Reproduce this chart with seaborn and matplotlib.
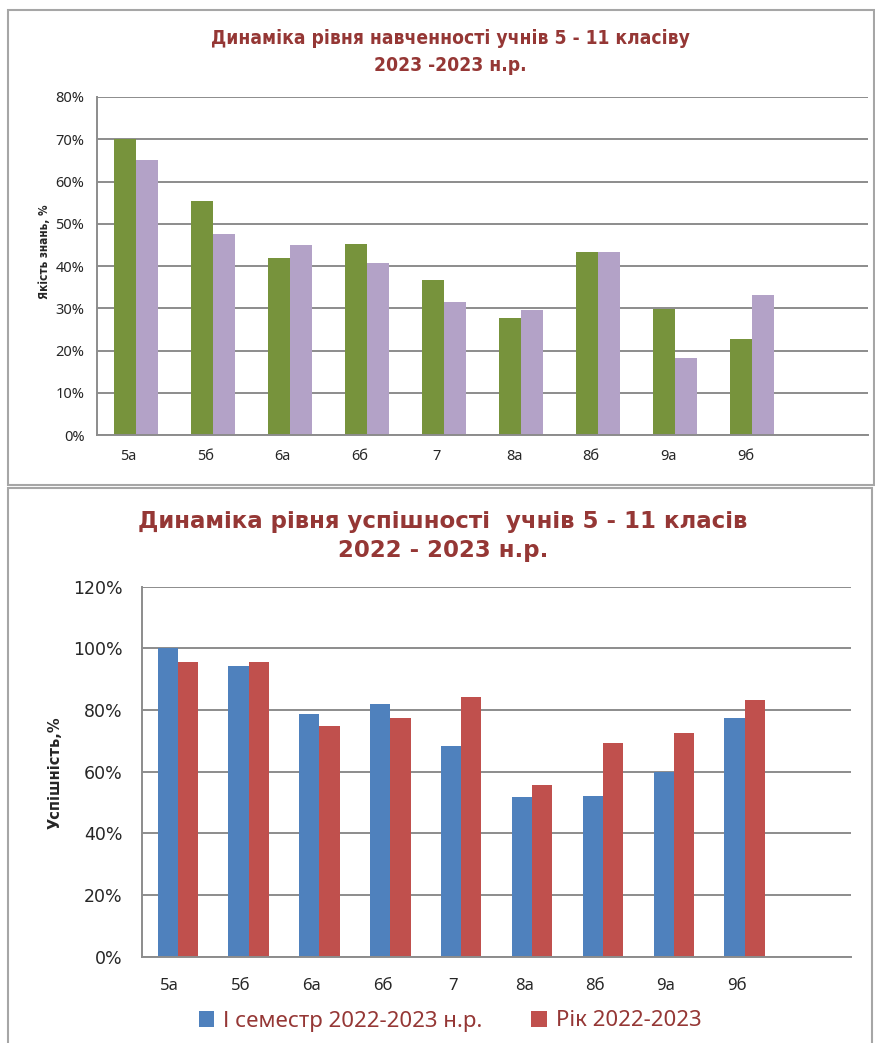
import matplotlib
matplotlib.use("Agg")
import matplotlib.pyplot as plt
import matplotlib.transforms as mtransforms
from matplotlib.patches import Rectangle
from matplotlib.ticker import PercentFormatter
import numpy as np
import pandas as pd
import seaborn as sns

# class names and values (percent)
classes = ["5а", "5б", "6а", "6б", "7", "8а", "8б", "9а", "9б"]
series = ["І семестр 2022-2023 н.р.", "Рік 2022-2023"]

quality_sem = [70.0, 55.4, 42.0, 45.3, 36.8, 27.8, 43.3, 29.9, 22.7]
quality_year = [65.0, 47.6, 44.9, 40.7, 31.4, 29.5, 43.3, 18.2, 33.2]

success_sem = [100.0, 94.3, 78.7, 81.9, 68.3, 51.9, 52.2, 60.0, 77.3]
success_year = [95.7, 95.7, 74.8, 77.3, 84.1, 55.6, 69.4, 72.5, 83.2]

top_title = "Динаміка рівня навченності учнів 5 - 11 класіву\n2023 -2023 н.р."
bottom_title = "Динаміка рівня успішності  учнів 5 - 11 класів\n2022 - 2023 н.р."

DARK_RED = "#953735"
GRID = "#8c8c8c"
NARROW = ["Noto Sans", "DejaVu Sans"]


def long_df(sem, year):
    df = pd.DataFrame({"class": classes, series[0]: sem, series[1]: year})
    return df.melt(id_vars="class", var_name="period", value_name="value")


def style_axes(ax, ymax, step, tick_size, tick_family, xlab_shift, xpad):
    ax.set_xlim(-0.5, 9.5)
    ax.set_ylim(0, ymax)
    ax.set_yticks(np.arange(0, ymax + 1, step))
    ax.yaxis.set_major_formatter(PercentFormatter(xmax=100, decimals=0))
    ax.grid(axis="y", color=GRID, lw=1.4)
    ax.grid(axis="x", visible=False)
    ax.set_axisbelow(True)
    for side in ["top", "right"]:
        ax.spines[side].set_visible(False)
    for side in ["left", "bottom"]:
        ax.spines[side].set_color(GRID)
        ax.spines[side].set_linewidth(1.4)
    # tick marks on category boundaries, labels in the middle
    ax.set_xticks(np.arange(-0.5, 10, 1))
    ax.set_xticklabels([])
    ax.set_xticks(range(len(classes)), minor=True)
    ax.set_xticklabels(classes, minor=True, fontsize=tick_size, family=NARROW)
    ax.tick_params(axis="x", which="major", length=5, width=1.4, color=GRID)
    ax.tick_params(axis="x", which="minor", length=0, pad=xpad)
    ax.tick_params(axis="y", length=5, width=1.4, color=GRID)
    for lab in ax.get_yticklabels():
        lab.set_family(tick_family)
    shift = mtransforms.ScaledTranslation(xlab_shift / 100, 0, ax.figure.dpi_scale_trans)
    for lab in ax.get_xticklabels(minor=True):
        lab.set_transform(lab.get_transform() + shift)
    ax.set_xlabel("")


sns.set_theme(style="white")
plt.rcParams["font.family"] = ["DejaVu Sans"]

fig = plt.figure(figsize=(8.75, 10.43), dpi=100)
W, H = 875, 1043

# chart frames
fig.patches.append(Rectangle((8 / W, 1 - 485 / H), 866 / W, 475 / H, transform=fig.transFigure,
                             fill=False, ec="#a6a6a6", lw=1.5))
fig.patches.append(Rectangle((8 / W, -0.01), 864 / W, 1 - 488 / H + 0.01, transform=fig.transFigure,
                             fill=False, ec="#a6a6a6", lw=1.5))

# top chart
ax1 = fig.add_axes([97 / W, 1 - 435 / H, 771 / W, 338 / H])
sns.barplot(data=long_df(quality_sem, quality_year), x="class", y="value", hue="period",
            order=classes, palette=["#77933C", "#B3A2C7"], width=0.57, gap=0,
            saturation=1, linewidth=0, legend=False, ax=ax1)
style_axes(ax1, 80, 10, 10.5, NARROW, -7, 10)
ax1.set_ylabel("Якість знань, %", fontsize=8.5, fontweight="bold", fontstretch="condensed")
ax1.yaxis.set_label_coords(-0.060, 0.541)
ax1.tick_params(axis="y", labelsize=10.5, pad=4)
fig.text(450 / W, 1 - 52 / H, top_title, ha="center", va="center", color=DARK_RED,
         fontsize=13.8, fontweight="bold", family="DejaVu Sans", fontstretch="condensed",
         linespacing=1.55)

# bottom chart
ax2 = fig.add_axes([142.3 / W, 1 - 956.7 / H, 708.7 / W, 370 / H])
sns.barplot(data=long_df(success_sem, success_year), x="class", y="value", hue="period",
            order=classes, palette=["#4F81BD", "#C0504D"], width=0.57, gap=0,
            saturation=1, linewidth=0, ax=ax2)
style_axes(ax2, 120, 20, 12, ["DejaVu Sans"], -8, 15)
ax2.set_ylabel("Успішність,%", fontsize=10.5, fontweight="bold")
ax2.yaxis.set_label_coords(-0.113, 0.496)
ax2.tick_params(axis="y", labelsize=12.5, pad=9)
fig.text(443 / W, 1 - 536 / H, bottom_title, ha="center", va="center", color=DARK_RED,
         fontsize=16.5, fontweight="bold", linespacing=1.35)

handles, labels = ax2.get_legend_handles_labels()
ax2.legend(handles, labels, loc="center", bbox_to_anchor=(450 / W, 1 - 1021 / H),
           bbox_transform=fig.transFigure, ncol=2, frameon=False, handlelength=0.7,
           handleheight=0.7, handletextpad=0.4, columnspacing=2.2,
           labelcolor=DARK_RED, prop={"family": NARROW, "size": 16})

fig.savefig("out.png", dpi=100)
